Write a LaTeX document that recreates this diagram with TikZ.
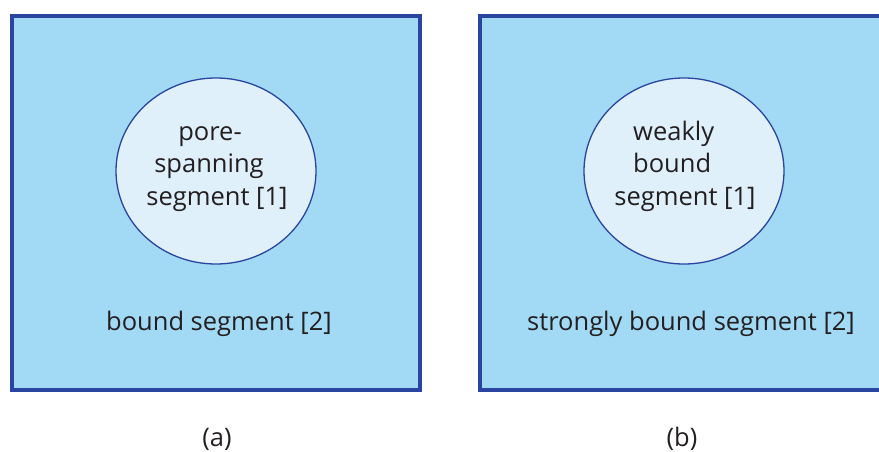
\documentclass[tikz,border=0pt]{standalone}
\usepackage{fontspec}
\setmainfont{Open Sans}
\definecolor{panelfill}{HTML}{A2DAF5}
\definecolor{panelline}{HTML}{2A45A0}
\definecolor{porefill}{HTML}{DFF0FA}
\definecolor{inktext}{HTML}{231F20}
\begin{document}
\begin{tikzpicture}[x=1pt,y=-1pt,
  panel/.style={draw=panelline,fill=panelfill,line width=4pt},
  pore/.style={draw=panelline,fill=porefill,line width=1.3pt},
  lbl/.style={text=inktext,font=\fontsize{25.5}{30}\selectfont,inner sep=0pt,anchor=base}]
\useasboundingbox (0,0) rectangle (879,452);
% panel (a)
\draw[panel] (12,16) rectangle (420,390);
\draw[pore] (216,171) ellipse [x radius=100, y radius=93];
\node[lbl] (a1) at (210,140) {pore-};
\node[lbl] (a2) at (209,172) {spanning};
\node[lbl] (a3) at (217,205) {segment [1]};
\node[lbl] (a4) at (219,330) {bound segment [2]};
\node[lbl] (acap) at (217,446) {(a)};
% panel (b), running off the right edge
\begin{scope}
\clip (0,0) rectangle (879,452);
\draw[panel] (480,16) rectangle (890,390);
\end{scope}
\draw[pore] (684,171) ellipse [x radius=100, y radius=93];
\node[lbl,anchor=base west] (b1) at (633,140) {weakly};
\node[lbl,anchor=base west] (b2) at (633,172) {bound};
\node[lbl] (b3) at (685,205) {segment [1]};
\node[lbl] (b4) at (691,330) {strongly bound segment [2]};
\node[lbl] (bcap) at (682,446) {(b)};
\end{tikzpicture}
\end{document}
